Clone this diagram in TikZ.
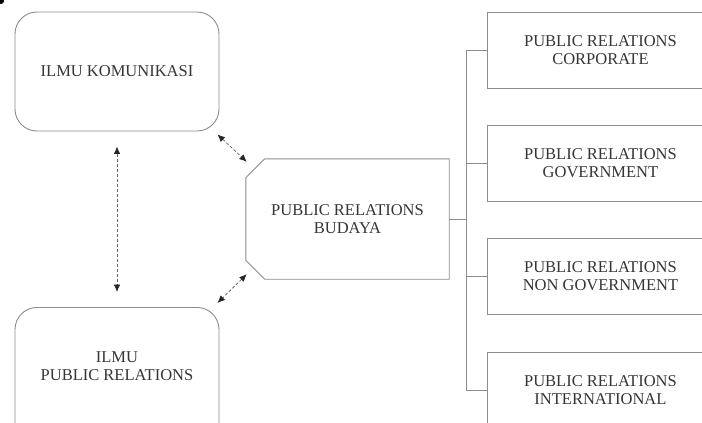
\documentclass[tikz,border=0pt]{standalone}
\usepackage{fontspec}
\setmainfont{Liberation Serif}
\usetikzlibrary{calc,arrows.meta}
\definecolor{edge}{HTML}{8C8C8C}
\definecolor{ink}{HTML}{353535}
\definecolor{arr}{HTML}{666666}
\begin{document}
\begin{tikzpicture}[x=1pt,y=-1pt,
  rbox/.style={draw=edge,line width=0.9pt,rounded corners=22pt,minimum width=204pt,inner sep=0pt},
  sbox/.style={draw=edge,line width=0.9pt,minimum width=226pt,minimum height=76pt,inner sep=0pt,anchor=north west},
  txt/.style={text=ink,font=\fontsize{16.5}{17.7}\selectfont,align=center},
  link/.style={draw=edge,line width=0.9pt},
  tip/.tip={Latex[length=7.5pt,width=6.5pt,color=black!85]},
  darr/.style={draw=arr,line width=0.8pt,dash pattern=on 3pt off 2pt,tip-tip}]
\useasboundingbox (0,0) rectangle (702,423);

% top-left stray mark
\fill[black] (1,1) circle (3pt);

% left boxes
\node[rbox,txt,minimum height=119pt] (kom) at (117,71.5) {ILMU KOMUNIKASI};
\node[rbox,minimum height=160pt,anchor=north] (pr) at (117,307) {};
\node[txt] (prt) at (117,366.5) {ILMU\\PUBLIC RELATIONS};

% centre box (chamfered on the left)
\node[txt,minimum width=203pt,minimum height=120pt,inner sep=0pt] (bud) at (347.5,219) {PUBLIC RELATIONS\\BUDAYA};
\draw[link] ($(bud.north west)+(0,19)$) -- ($(bud.north west)+(19,0)$) -- (bud.north east)
  -- (bud.south east) -- ($(bud.south west)+(19,0)$) -- ($(bud.south west)+(0,-19)$) -- cycle;

% right boxes
\node[sbox,txt] (c1) at (487,12)  {PUBLIC RELATIONS\\CORPORATE};
\node[sbox,txt] (c2) at (487,125) {PUBLIC RELATIONS\\GOVERNMENT};
\node[sbox,txt] (c3) at (487,238) {PUBLIC RELATIONS\\NON GOVERNMENT};
\node[sbox,txt] (c4) at (487,352) {PUBLIC RELATIONS\\INTERNATIONAL};

% tree connector
\coordinate (j) at (466,219);
\draw[link] (bud.east) -- (j);
\draw[link] (c1.west -| j) -- (c4.west -| j);
\foreach \n in {c1,c2,c3,c4} \draw[link] (\n.west -| j) -- (\n.west);

% dashed double arrows
\coordinate (a1) at ($(kom.south east)+(-2,3)$);
\coordinate (a2) at ($(bud.north west)+(1,3)$);
\coordinate (a3) at ($(bud.south west)+(1,-5)$);
\coordinate (a4) at ($(pr.north east)+(-2,-4)$);
\coordinate (v1) at ($(kom.south)+(0,15)$);
\coordinate (v2) at ($(pr.north)+(0,-15)$);
\draw[darr] (a1) -- (a2);
\draw[darr] (a3) -- (a4);
\draw[darr] (v1) -- (v2);
\end{tikzpicture}
\end{document}
